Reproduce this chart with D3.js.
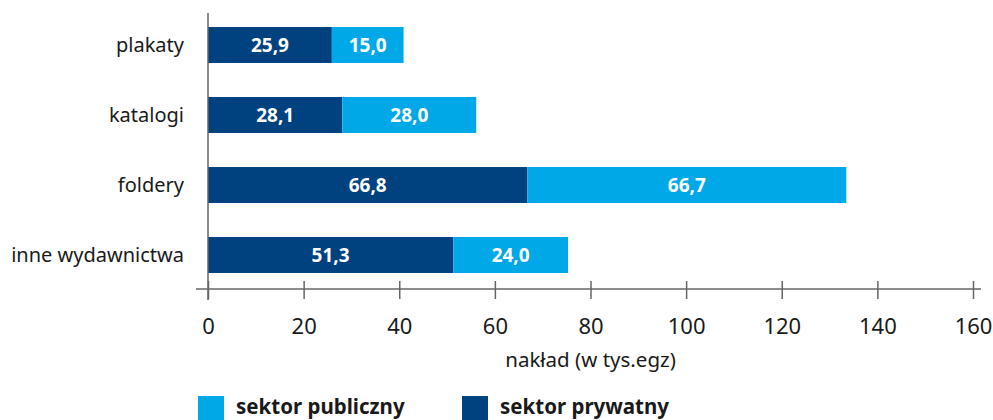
<!DOCTYPE html>
<html>
<head>
<meta charset="utf-8">
<style>
  body { margin: 0; background: #fff; }
  svg text { font-family: "Noto Sans", "Open Sans", sans-serif; }
</style>
<script src="https://d3js.org/d3.v7.min.js"></script>
</head>
<body>
<svg id="chart" width="993" height="420"></svg>
<script>
// data
var categories = ["plakaty", "katalogi", "foldery", "inne wydawnictwa"];
var prywatny = [25.9, 28.1, 66.8, 51.3];
var publiczny = [15.0, 28.0, 66.7, 24.0];
var ticks = [0, 20, 40, 60, 80, 100, 120, 140, 160];
var seriesNames = ["sektor publiczny", "sektor prywatny"];

var darkBlue = "#00417f", lightBlue = "#00a8e8";
var fmt = function(v) { return d3.format(".1f")(v).replace(".", ","); };

var svg = d3.select("#chart");

var x = d3.scaleLinear().domain([0, 160]).range([208, 973]);
var y = d3.scaleBand().domain(categories).range([10, 290]).paddingInner(0.486).paddingOuter(0.243);

var rows = categories.map(function(c, i) {
  return { cat: c, priv: prywatny[i], pub: publiczny[i] };
});

// bars
var g = svg.append("g");
var row = g.selectAll("g.row").data(rows).enter().append("g").attr("class", "row");

row.append("rect")
  .attr("x", x(0))
  .attr("y", function(d) { return y(d.cat); })
  .attr("width", function(d) { return x(d.priv) - x(0); })
  .attr("height", y.bandwidth())
  .attr("fill", darkBlue);

row.append("rect")
  .attr("x", function(d) { return x(d.priv); })
  .attr("y", function(d) { return y(d.cat); })
  .attr("width", function(d) { return x(d.priv + d.pub) - x(d.priv); })
  .attr("height", y.bandwidth())
  .attr("fill", lightBlue);

row.append("text")
  .attr("x", function(d) { return (x(0) + x(d.priv)) / 2; })
  .attr("y", function(d) { return y(d.cat) + y.bandwidth() / 2 + 7; })
  .attr("text-anchor", "middle")
  .attr("fill", "#fff")
  .attr("font-weight", "bold")
  .attr("font-size", 19)
  .text(function(d) { return fmt(d.priv); });

row.append("text")
  .attr("x", function(d) { return (x(d.priv) + x(d.priv + d.pub)) / 2; })
  .attr("y", function(d) { return y(d.cat) + y.bandwidth() / 2 + 7; })
  .attr("text-anchor", "middle")
  .attr("fill", "#fff")
  .attr("font-weight", "bold")
  .attr("font-size", 19)
  .text(function(d) { return fmt(d.pub); });

// category labels
svg.append("g").selectAll("text").data(categories).enter().append("text")
  .attr("x", 184)
  .attr("y", function(d) { return y(d) + y.bandwidth() / 2 + 7; })
  .attr("text-anchor", "end")
  .attr("font-size", 20)
  .attr("fill", "#1a1a1a")
  .text(function(d) { return d; });

// axes
var axisColor = "#666";
svg.append("line")
  .attr("x1", x(0)).attr("x2", x(0)).attr("y1", 13).attr("y2", 300)
  .attr("stroke", axisColor).attr("stroke-width", 1.5);

var xAxis = svg.append("g").attr("transform", "translate(0,289)")
  .call(d3.axisBottom(x).tickValues(ticks).tickSize(0).tickFormat(""));
xAxis.select(".domain").remove();
xAxis.append("line").attr("x1", 196).attr("x2", 981)
  .attr("stroke", axisColor).attr("stroke-width", 1.5);
xAxis.selectAll(".tick line").attr("y1", -8).attr("y2", 10)
  .attr("stroke", axisColor).attr("stroke-width", 1.5);
xAxis.selectAll(".tick").append("text")
  .attr("y", 45)
  .attr("text-anchor", "middle")
  .attr("font-size", 22)
  .attr("fill", "#1a1a1a")
  .text(function(d) { return d; });

svg.append("text")
  .attr("x", x(80)).attr("y", 367)
  .attr("text-anchor", "middle")
  .attr("font-size", 20.5)
  .attr("fill", "#1a1a1a")
  .text("nakład (w tys.egz)");

// legend
var legendX = [198, 462];
var legendColors = [lightBlue, darkBlue];
var leg = svg.append("g").selectAll("g").data(seriesNames).enter().append("g")
  .attr("transform", function(d, i) { return "translate(" + legendX[i] + ",396)"; });
leg.append("rect").attr("width", 26).attr("height", 26)
  .attr("fill", function(d, i) { return legendColors[i]; });
leg.append("text").attr("x", 38).attr("y", 18)
  .attr("font-size", 20.5).attr("font-weight", "bold").attr("fill", "#1a1a1a")
  .text(function(d) { return d; });
</script>
</body>
</html>
